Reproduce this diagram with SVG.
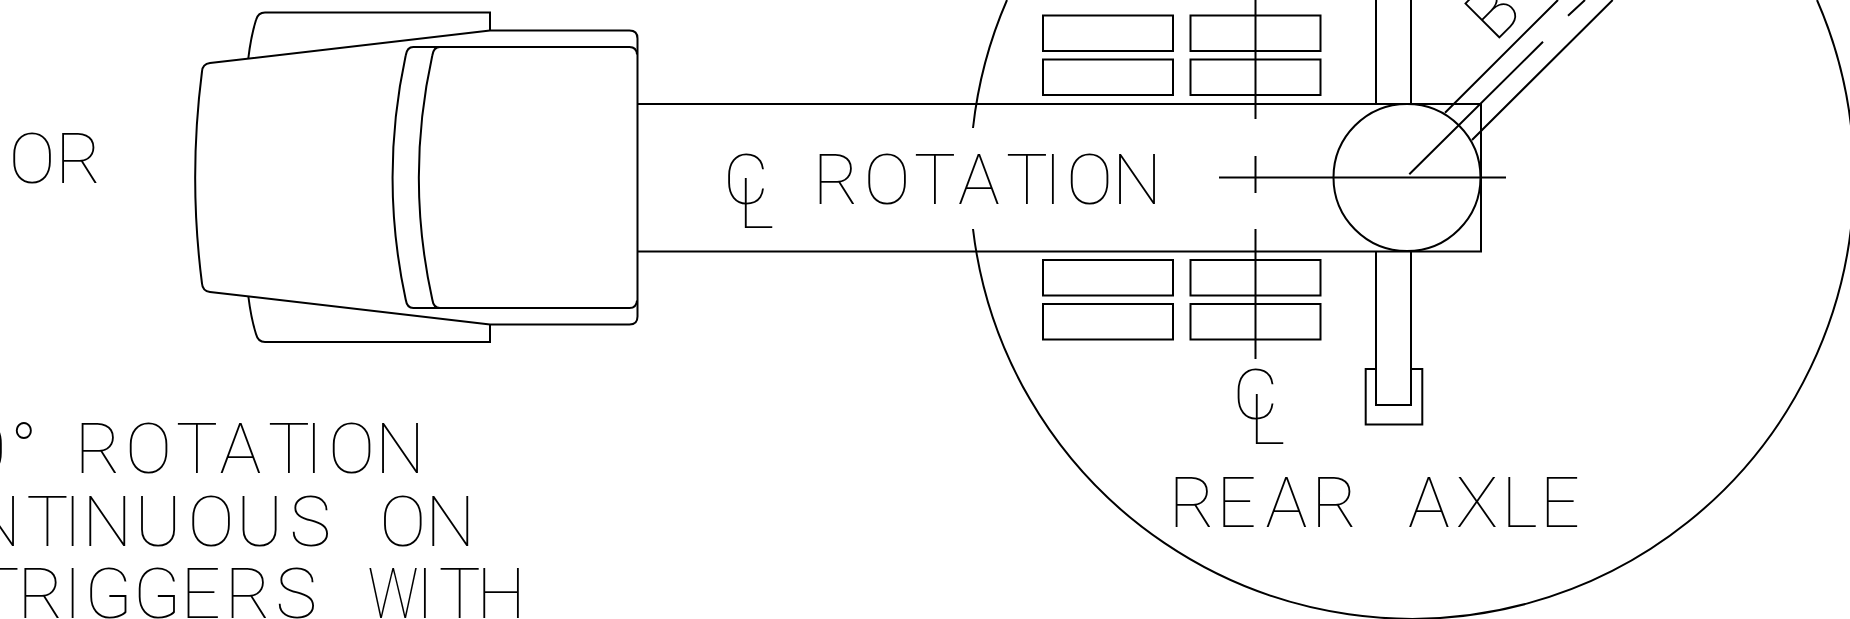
<svg xmlns="http://www.w3.org/2000/svg" width="1850" height="619" viewBox="0 0 1850 619">
<style>
.l{fill:none;stroke:#000;stroke-width:2;stroke-linecap:butt;stroke-linejoin:miter}
.t{font-family:Roboto,"Liberation Sans",sans-serif;font-weight:100;font-size:70px;fill:#000;text-anchor:middle}
</style>
<rect width="1850" height="619" fill="#fff"/>
<g id="connectors" class="l">
<path d="M637 104H1481V251.500H637"/>
<path d="M973 128A442 442 0 0 1 1007 0M973 229A442 442 0 1 0 1817 0"/>
<path d="M1219 177.500H1506M1255.500 0V119M1255.500 156V193M1255.500 229V359"/>
<path d="M1445 112.700L1558 0M1409.300 174.300L1543 41.700M1568 15.700L1585 0M1472 140L1612.700 0"/>
</g>
<g id="truck" class="l">
<path d="M210 63L490 30.500H629.500Q637.500 30.500 637.500 38.500V316.500Q637.500 324.500 629.500 324.500H490L210 292Q202.500 291 202 283.500A829 829 0 0 1 202 71.500Q202.500 64 210 63Z"/>
<path d="M248.300 58.500Q251 36 256 20Q258 12.500 265 12.500H490V30.500M248.300 296Q251 318 256 334Q258 342 265 342H490V324.500"/>
<path d="M637 54.500Q636.500 47 629.500 47H413.300Q407 47 405.700 55.500A579 579 0 0 0 405.700 299.500Q407 308 413.300 308H629.500Q636.500 308 637 300.500"/>
<path d="M440 47Q433.500 47 432.300 55.500A566 566 0 0 0 432.300 299.500Q433.500 308 440 308"/>
</g>
<g id="hub" class="l">
<circle cx="1407" cy="177.500" r="73.500"/>
<path d="M1376 0V104M1411 0V104M1376 251.500V405H1411V251.500M1376 369H1365.700V424.500H1422.300V369H1411"/>
</g>
<g id="pads" class="l">
<rect x="1043" y="15.500" width="130" height="35.500"/><rect x="1190.500" y="15.500" width="130" height="35.500"/>
<rect x="1043" y="59.500" width="130" height="35.500"/><rect x="1190.500" y="59.500" width="130" height="35.500"/>
<rect x="1043" y="260" width="130" height="35.500"/><rect x="1190.500" y="260" width="130" height="35.500"/>
<rect x="1043" y="304" width="130" height="35.500"/><rect x="1190.500" y="304" width="130" height="35.500"/>
</g>
<g id="labels">
<text class="t" x="32 78.500" y="182.500">OR</text>
<text class="t" x="746" y="204">C</text>
<text class="t" x="756" y="227.500">L</text>
<text class="t" x="836 887 935 979 1027 1053 1089.500 1137" y="203.500">ROTATION</text>
<text class="t" x="1255.500" y="418.500">C</text>
<text class="t" x="1267" y="443.500">L</text>
<text class="t" x="1192 1236.500 1286.500 1334.500" y="526.500">REAR</text>
<text class="t" x="1429 1477 1519.500 1560" y="526.500">AXLE</text>
<text class="t" transform="translate(1498 40) rotate(-45)" x="16" y="0">B</text>
<text class="t" x="-13 24 98 148.500 197 240.500 289 314 351.500 400" y="473">0°ROTATION</text>
<text class="t" x="-4 47.300 72.700 107.300 158 211 259.700 310.300 402.700 450.300" y="546">NTINUOUSON</text>
<text class="t" x="-1.500 40.700 72.700 108.500 157 200.600 247.800 296.300" y="618">TRIGGERS</text>
<text class="t" transform="scale(.8 1)" x="491.250" y="618">W</text>
<text class="t" x="425 459.700 501" y="618">ITH</text>
</g>
</svg>
